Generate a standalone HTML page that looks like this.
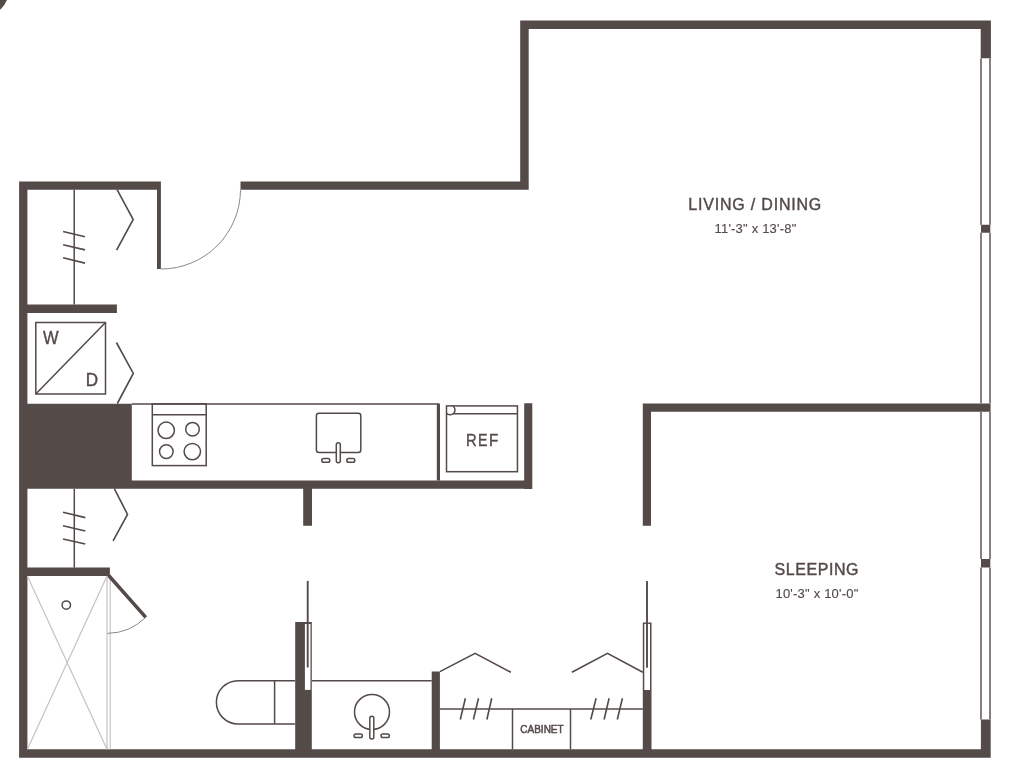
<!DOCTYPE html>
<html>
<head>
<meta charset="utf-8">
<style>
html,body{margin:0;padding:0;background:#fff;}
body{width:1024px;height:783px;overflow:hidden;}
svg{display:block;}
text{font-family:"Liberation Sans",sans-serif;fill:#544a48;stroke:#544a48;stroke-width:0.4;}
svg{will-change:transform;}
</style>
</head>
<body>
<svg width="1024" height="783" viewBox="0 0 1024 783">
<rect x="0" y="0" width="1024" height="783" fill="#fff"/>
<!-- corner logo fragment -->
<circle cx="-17.4" cy="-9.9" r="26.2" fill="#544a48"/>

<!-- WALLS -->
<path fill="#544a48" d="M19.1 181.4H160.5V189.8H19.1ZM19.1 181.4H27.4V757.7H19.1ZM157 181.4H160.9V269H157ZM240.5 181.4H528.7V189.8H240.5ZM520.2 20.5H528.7V189.8H520.2ZM520.2 20.5H990.9V29H520.2ZM980.7 20.5H990.9V58.3H980.7ZM981 224.8H990.3V232.7H981ZM642.8 403.4H990.6V411.8H642.8ZM981 559H990.3V567.5H981ZM980.9 719.5H990.7V757.7H980.9ZM19.1 749.2H990.7V757.7H19.1ZM642.8 403.4H651V525.7H642.8ZM27 304.5H116.9V312.9H27ZM19.1 403.7H131.8V488.8H19.1ZM27 480.5H532.3V488.8H27ZM524.2 403.3H532.3V488.9H524.2ZM303.2 480.7H312V525.8H303.2ZM27 567.4H109.9V575.9H27ZM295.2 622.1H311.8V749.2H295.2ZM431.7 671.6H439.9V749.2H431.7ZM642.8 622.4H651.5V749.2H642.8Z"/>


<!-- windows -->
<g fill="#7a7170">
<rect x="980.1" y="58.3" width="1.8" height="166.5"/>
<rect x="989.1" y="58.3" width="1.8" height="166.5"/>
<rect x="980.1" y="232.7" width="1.8" height="170.7"/>
<rect x="989.1" y="232.7" width="1.8" height="170.7"/>
<rect x="980.1" y="411.8" width="1.8" height="147.2"/>
<rect x="989.1" y="411.8" width="1.8" height="147.2"/>
<rect x="980.1" y="567.5" width="1.8" height="152"/>
<rect x="989.1" y="567.5" width="1.8" height="152"/>
</g>

<!-- pocket slots (white) -->
<rect x="304.9" y="624" width="5.6" height="65.9" fill="#fff"/>
<rect x="644.3" y="623.9" width="5.7" height="66.1" fill="#fff"/>

<g fill="none" stroke="#544a48" stroke-width="1.5">
<!-- door arc -->
<path d="M161 269 A79.5 79.5 0 0 0 240.5 189.8" stroke="#8f8886" stroke-width="1"/>
<!-- closet rods -->
<line x1="74.2" y1="189.8" x2="74.2" y2="304.5"/>
<line x1="74.3" y1="488.8" x2="74.3" y2="567.7"/>
<!-- hash marks -->
<g stroke-width="1.6">
<line x1="63.1" y1="231.5" x2="85" y2="236.8"/>
<line x1="63.1" y1="244.8" x2="85" y2="249.9"/>
<line x1="63.1" y1="257.8" x2="85" y2="263.1"/>
<line x1="63" y1="512.2" x2="85.3" y2="517.6"/>
<line x1="63" y1="525.7" x2="85.3" y2="531"/>
<line x1="63" y1="539" x2="85.3" y2="544"/>
<!-- chevrons -->
<polyline points="117.1,189.6 133.2,219.5 116.6,250.2"/>
<polyline points="116.4,342.5 133.3,373.4 117.3,403.5"/>
<polyline points="114.3,488.7 127.5,514.4 113.1,540.8"/>
</g>
<!-- W/D -->
<rect x="35.8" y="322.5" width="69.7" height="71.5"/>
<line x1="35.8" y1="394" x2="105.5" y2="322.5"/>
<!-- counter -->
<line x1="131.8" y1="404.1" x2="439" y2="404.1"/>
<line x1="438.4" y1="403.7" x2="438.4" y2="480.5" stroke-width="3.2"/>
<!-- stove -->
<rect x="152.3" y="403.9" width="53.9" height="61.7"/>
<line x1="152.3" y1="414.8" x2="206.2" y2="414.8"/>
<circle cx="166.2" cy="430.3" r="8.2"/>
<circle cx="192.5" cy="429.2" r="6.8"/>
<circle cx="166.3" cy="451.6" r="6.8"/>
<circle cx="192.3" cy="451.6" r="8.2"/>
<!-- kitchen sink -->
<rect x="316.4" y="413.3" width="44.4" height="39.1" rx="2.5"/>
<rect x="336.3" y="442.7" width="4" height="20" rx="2" fill="#fff"/>
<rect x="321.8" y="458.6" width="8" height="3.6" rx="1.8"/>
<rect x="346.8" y="458.6" width="8" height="3.6" rx="1.8"/>
<!-- REF -->
<line x1="446.5" y1="413.7" x2="517.45" y2="413.7"/>
<path d="M446.5 405.9 L452.84 405.9 A4.9 4.9 0 1 1 446.5 413.3 Z" fill="#fff" stroke="none"/>
<rect x="446.5" y="405.9" width="70.95" height="65.8"/>
<path d="M452.84 405.9 A4.9 4.9 0 1 1 446.5 413.3"/>
<!-- shower -->
<g stroke="#c6c2c1" stroke-width="1.2">
<line x1="107" y1="576" x2="107" y2="749.2"/>
<line x1="110.2" y1="576" x2="110.2" y2="749.2"/>
<line x1="27.4" y1="576" x2="107" y2="749.2"/>
<line x1="107" y1="576" x2="27.4" y2="749.2"/>
</g>
<circle cx="66.3" cy="605.1" r="4.2"/>
<line x1="108.7" y1="575.5" x2="145.8" y2="617.3" stroke-width="3.5"/>
<path d="M145.8 617.3 A56 56 0 0 1 107.5 633.4" stroke="#8f8886" stroke-width="1"/>
<!-- pocket doors -->
<line x1="307.7" y1="580.9" x2="307.7" y2="667.5" stroke-width="1.9"/>
<line x1="647" y1="580.9" x2="647" y2="667.7" stroke-width="1.9"/>
<!-- toilet -->
<path d="M295.2 680.7 L238 680.7 A21.65 21.65 0 0 0 238 724 L295.2 724"/>
<line x1="274.6" y1="680.7" x2="274.6" y2="724"/>
<!-- bath counter line -->
<line x1="311.8" y1="680.7" x2="431.7" y2="680.7"/>
<!-- bath sink -->
<circle cx="372" cy="712" r="17.5"/>
<rect x="369.8" y="716.3" width="4" height="22.8" rx="2" fill="#fff"/>
<rect x="354" y="734" width="8.4" height="3.6" rx="1.8"/>
<rect x="381" y="734" width="8.4" height="3.6" rx="1.8"/>
<!-- closet bifolds -->
<g stroke-width="1.6">
<polyline points="439.9,671.6 475.1,653.4 510.9,672.3"/>
<polyline points="571.9,672.3 607.5,653.4 642.8,672.3"/>
<line x1="460.3" y1="719.5" x2="465.4" y2="698.2"/>
<line x1="473.4" y1="719.5" x2="478.5" y2="698.2"/>
<line x1="486.9" y1="719.5" x2="491.7" y2="698.2"/>
<line x1="590.8" y1="719.5" x2="596.1" y2="698.2"/>
<line x1="604.1" y1="719.5" x2="609.1" y2="698.2"/>
<line x1="617.3" y1="719.5" x2="622.4" y2="698.2"/>
</g>
<line x1="439.9" y1="708.9" x2="642.8" y2="708.9"/>
<line x1="512.5" y1="708.9" x2="512.5" y2="749.2"/>
<line x1="570.5" y1="708.9" x2="570.5" y2="749.2"/>
</g>

<!-- TEXT -->
<text x="688.3" y="209.8" font-size="16" letter-spacing="0.8">LIVING / DINING</text>
<text x="714.5" y="233.2" font-size="13" letter-spacing="0.2" style="stroke-width:0.12">11'-3" x 13'-8"</text>
<text x="774.6" y="574.7" font-size="16" letter-spacing="0.55">SLEEPING</text>
<text x="775.5" y="597.8" font-size="13" letter-spacing="0.2" style="stroke-width:0.12">10'-3" x 10'-0"</text>
<text transform="translate(42.95,344.3) scale(0.92,1)" font-size="18">W</text>
<text transform="translate(85.8,385.55) scale(0.95,1)" font-size="18">D</text>
<text transform="translate(466.1,445.75) scale(0.87,1)" font-size="17">R</text>
<text transform="translate(478.0,445.75) scale(0.84,1)" font-size="17">E</text>
<text transform="translate(489.0,445.75) scale(0.89,1)" font-size="17">F</text>
<text x="520.3" y="733" font-size="10" style="stroke-width:0.5">CABINET</text>
</svg>
</body>
</html>
